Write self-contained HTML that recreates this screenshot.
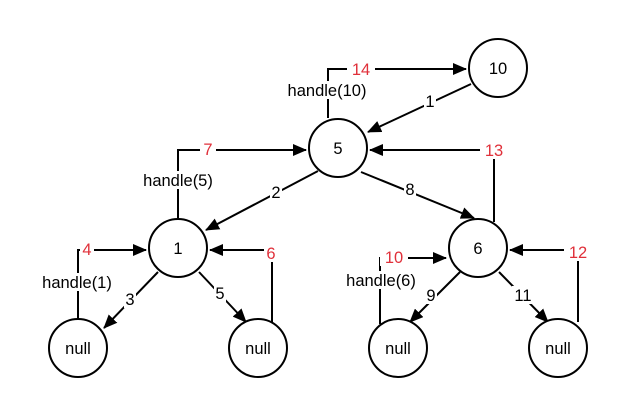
<!DOCTYPE html>
<html><head><style>
html,body{margin:0;padding:0;background:#fff;}
svg{display:block;}
text{font-family:"Liberation Sans",sans-serif;font-size:16.5px;}
</style></head><body>
<svg width="628" height="420" viewBox="0 0 628 420">
<defs>
<marker id="a" markerWidth="14" markerHeight="12" refX="13" refY="6" orient="auto" markerUnits="userSpaceOnUse">
<path d="M0,0 L14,6 L0,12 z" fill="#000"/>
</marker>
</defs>
<g stroke="#000" stroke-width="2" fill="none">
<polyline points="328,118 328,69 466,69" marker-end="url(#a)"/>
<line x1="471" y1="84" x2="368" y2="132" marker-end="url(#a)"/>
<polyline points="178,218 178,150 306,150" marker-end="url(#a)"/>
<line x1="318" y1="171" x2="206" y2="230" marker-end="url(#a)"/>
<line x1="361" y1="172" x2="474" y2="218" marker-end="url(#a)"/>
<polyline points="494,222 494,150 370,150" marker-end="url(#a)"/>
<polyline points="78,320 78,250 146,250" marker-end="url(#a)"/>
<line x1="158" y1="272" x2="104" y2="328" marker-end="url(#a)"/>
<line x1="199" y1="272" x2="246" y2="322" marker-end="url(#a)"/>
<polyline points="272,322 272,250 210,250" marker-end="url(#a)"/>
<polyline points="380,324 380,258 446,258" marker-end="url(#a)"/>
<line x1="460" y1="272" x2="410" y2="322" marker-end="url(#a)"/>
<line x1="499" y1="272" x2="548" y2="322" marker-end="url(#a)"/>
<polyline points="578,322 578,250 510,250" marker-end="url(#a)"/>
</g>
<g stroke="#000" stroke-width="2" fill="#fff">
<circle cx="498" cy="68" r="29"/>
<circle cx="338" cy="148" r="29"/>
<circle cx="178" cy="248" r="29"/>
<circle cx="478" cy="248" r="29"/>
<circle cx="78" cy="348" r="29"/>
<circle cx="258" cy="348" r="29"/>
<circle cx="398" cy="348" r="29"/>
<circle cx="558" cy="348" r="29"/>
</g>
<g text-anchor="middle">
<text x="498" y="74">10</text>
<text x="338" y="154">5</text>
<text x="178" y="254">1</text>
<text x="478" y="254">6</text>
<text x="78" y="354">null</text>
<text x="258" y="354">null</text>
<text x="398" y="354">null</text>
<text x="558" y="354">null</text>
</g>
<g text-anchor="middle">
<rect x="347" y="60" width="28" height="18" fill="#fff"/><text x="361" y="75" fill="#e0303a">14</text>
<rect x="282" y="81" width="92" height="18" fill="#fff"/><text x="327" y="96">handle(10)</text>
<rect x="424" y="92" width="12" height="18" fill="#fff"/><text x="430" y="107">1</text>
<rect x="200" y="141" width="16" height="18" fill="#fff"/><text x="208" y="155" fill="#e0303a">7</text>
<rect x="136" y="171" width="84" height="18" fill="#fff"/><text x="178" y="186">handle(5)</text>
<rect x="270" y="183" width="12" height="18" fill="#fff"/><text x="276" y="198">2</text>
<rect x="404" y="180" width="12" height="18" fill="#fff"/><text x="410" y="195">8</text>
<rect x="480" y="141" width="28" height="18" fill="#fff"/><text x="494" y="156" fill="#e0303a">13</text>
<rect x="80" y="240" width="14" height="18" fill="#fff"/><text x="87" y="255" fill="#e0303a">4</text>
<rect x="36" y="273" width="84" height="18" fill="#fff"/><text x="77" y="288">handle(1)</text>
<rect x="124" y="290" width="12" height="18" fill="#fff"/><text x="130" y="305">3</text>
<rect x="214" y="284" width="12" height="18" fill="#fff"/><text x="220" y="299">5</text>
<rect x="264" y="244" width="14" height="18" fill="#fff"/><text x="271" y="259" fill="#e0303a">6</text>
<rect x="380" y="248" width="28" height="18" fill="#fff"/><text x="394" y="263" fill="#e0303a">10</text>
<rect x="339" y="271" width="84" height="18" fill="#fff"/><text x="381" y="286">handle(6)</text>
<rect x="425" y="286" width="12" height="18" fill="#fff"/><text x="431" y="301">9</text>
<rect x="512" y="286" width="22" height="18" fill="#fff"/><text x="523" y="301">11</text>
<rect x="564" y="243" width="28" height="18" fill="#fff"/><text x="578" y="258" fill="#e0303a">12</text>
</g>
</svg>
</body></html>
